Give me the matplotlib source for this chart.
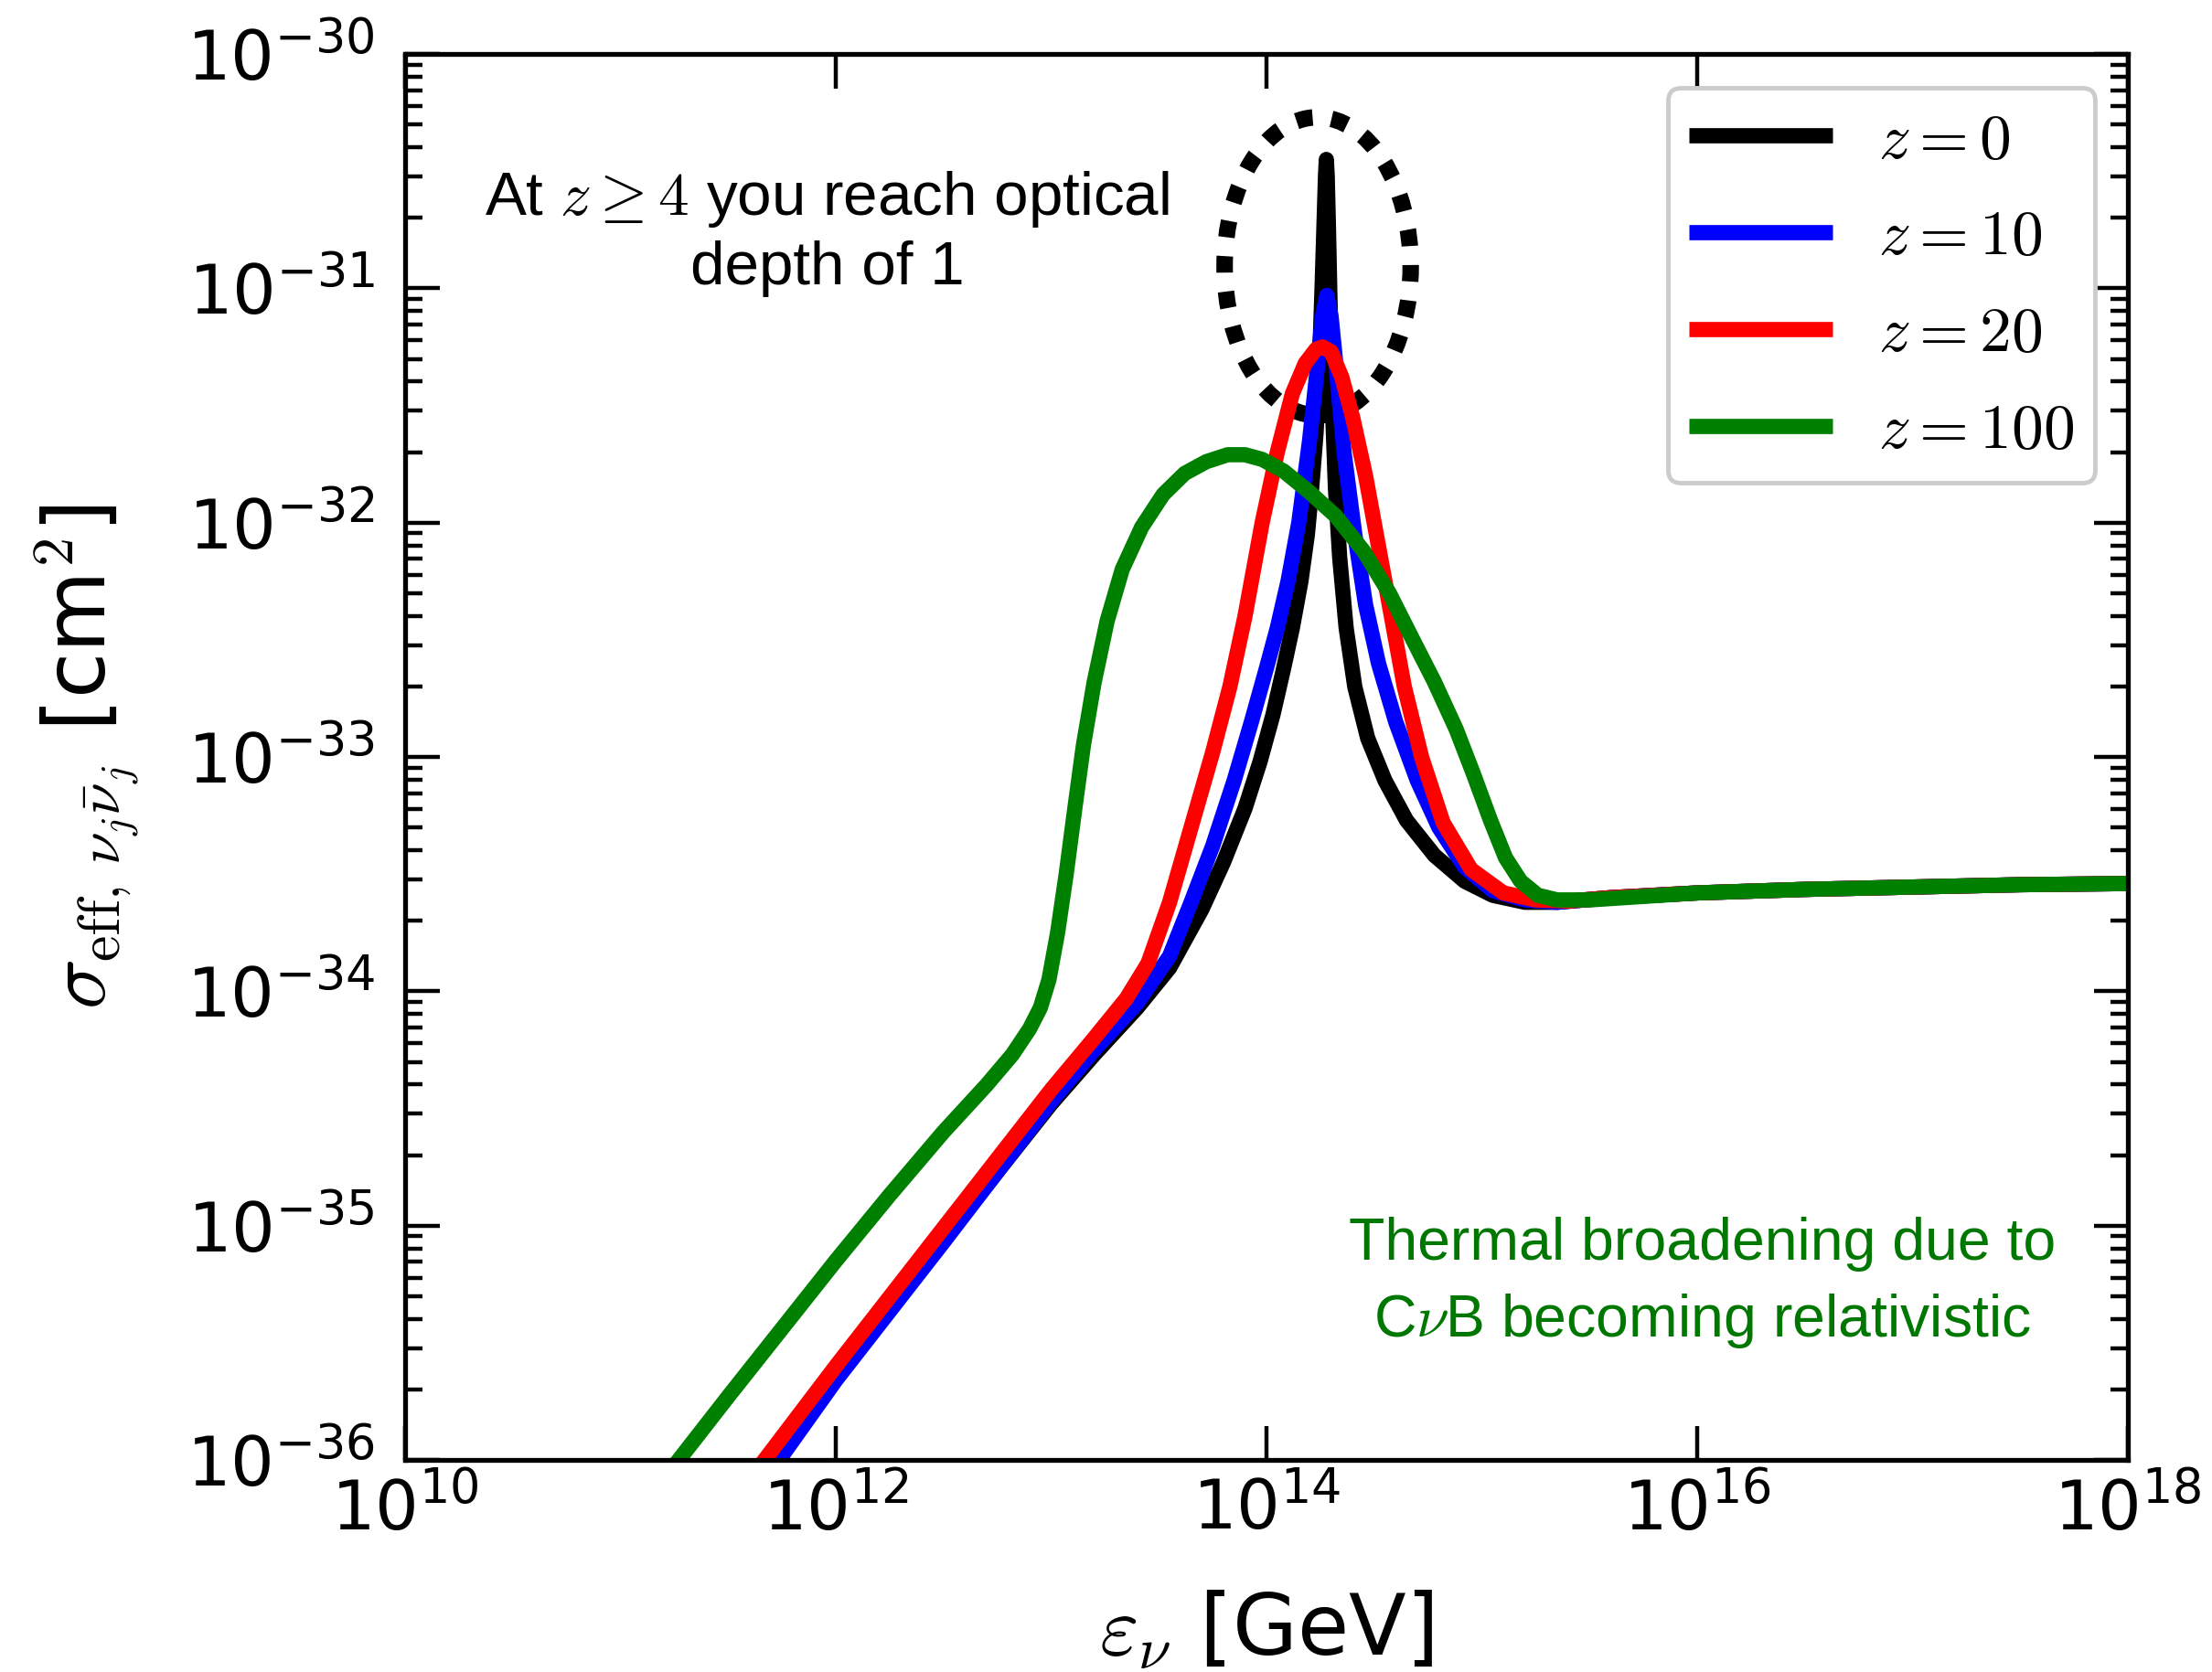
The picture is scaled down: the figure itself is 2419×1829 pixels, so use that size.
import numpy as np
import matplotlib
matplotlib.use("Agg")
import matplotlib.pyplot as plt
from matplotlib.patches import Ellipse
from matplotlib.ticker import FixedLocator, NullLocator, LogLocator, LogFormatterMathtext

plt.rcParams['mathtext.fontset'] = 'cm'
plt.rcParams['font.family'] = ['DejaVu Sans']

# ---- data: log10(energy / GeV), log10(sigma / cm^2) ----
z0_logx = [11.66, 12.0, 12.5, 13.0, 13.2, 13.4, 13.55, 13.7, 13.8, 13.9, 13.97, 14.03, 14.08,
           14.12, 14.16, 14.19, 14.21, 14.23, 14.245, 14.258, 14.268, 14.274, 14.278, 14.282,
           14.288, 14.296, 14.306, 14.32, 14.34, 14.37, 14.41, 14.47, 14.55, 14.65, 14.78, 14.92,
           15.05, 15.2, 15.35, 15.6, 16.0, 16.5, 17.0, 17.5, 18.0]
z0_logy = [-36.06, -35.64, -35.06, -34.48, -34.27, -34.07, -33.9, -33.65, -33.45, -33.22, -33.02,
           -32.82, -32.62, -32.45, -32.25, -32.05, -31.85, -31.62, -31.35, -31.0, -30.7, -30.52,
           -30.45, -30.52, -30.75, -31.1, -31.5, -31.85, -32.15, -32.45, -32.7, -32.92, -33.1,
           -33.27, -33.42, -33.53, -33.59, -33.62, -33.62, -33.6, -33.58, -33.565, -33.555, -33.545,
           -33.54]

z10_logx = [11.69, 12.0, 12.5, 13.0, 13.2, 13.4, 13.55, 13.65, 13.75, 13.85, 13.93, 14.0, 14.05,
            14.1, 14.15, 14.2, 14.235, 14.26, 14.28, 14.30, 14.325, 14.36, 14.41, 14.46, 14.52,
            14.6, 14.7, 14.8, 14.92, 15.05, 15.2, 15.35, 15.6, 16.0, 16.5, 17.0, 17.5, 18.0]
z10_logy = [-36.06, -35.66, -35.07, -34.47, -34.25, -34.05, -33.85, -33.62, -33.38, -33.1, -32.85,
            -32.62, -32.45, -32.25, -32.0, -31.65, -31.35, -31.12, -31.03, -31.12, -31.35, -31.7,
            -32.05, -32.35, -32.6, -32.85, -33.1, -33.3, -33.47, -33.57, -33.61, -33.62, -33.6,
            -33.58, -33.565, -33.555, -33.545, -33.54]

z20_logx = [11.62, 12.0, 12.5, 13.0, 13.2, 13.35, 13.45, 13.55, 13.65, 13.75, 13.83, 13.9, 13.98,
            14.05, 14.12, 14.18, 14.23, 14.26, 14.3, 14.35, 14.4, 14.46, 14.51, 14.57, 14.64,
            14.72, 14.82, 14.95, 15.1, 15.25, 15.4, 15.6, 16.0, 16.5, 17.0, 17.5, 18.0]
z20_logy = [-36.06, -35.6, -35.01, -34.42, -34.2, -34.03, -33.88, -33.62, -33.3, -32.98, -32.7,
            -32.4, -32.0, -31.7, -31.45, -31.32, -31.26, -31.25, -31.27, -31.38, -31.55, -31.8,
            -32.05, -32.35, -32.7, -33.0, -33.28, -33.48, -33.58, -33.61, -33.615, -33.6, -33.58,
            -33.565, -33.555, -33.545, -33.54]

z100_logx = [11.22, 11.5, 11.75, 12.0, 12.25, 12.5, 12.7, 12.82, 12.9, 12.95, 12.99, 13.03,
             13.07, 13.11, 13.15, 13.2, 13.26, 13.33, 13.42, 13.52, 13.62, 13.72, 13.82, 13.9,
             13.98, 14.08, 14.2, 14.32, 14.45, 14.57, 14.68, 14.78, 14.88, 14.96, 15.04, 15.11,
             15.18, 15.26, 15.35, 15.5, 16.0, 16.5, 17.0, 17.5, 18.0]
z100_logy = [-36.06, -35.73, -35.44, -35.15, -34.87, -34.6, -34.4, -34.27, -34.16, -34.07, -33.95,
             -33.75, -33.5, -33.22, -32.95, -32.68, -32.42, -32.2, -32.02, -31.88, -31.79, -31.74,
             -31.71, -31.71, -31.73, -31.78, -31.87, -31.97, -32.12, -32.3, -32.5, -32.68, -32.88,
             -33.07, -33.27, -33.43, -33.53, -33.59, -33.61, -33.61, -33.58, -33.565, -33.555,
             -33.545, -33.54]

series_labels = [r'$z=0$', r'$z=10$', r'$z=20$', r'$z=100$']
series_colors = ['black', 'blue', 'red', 'green']

fig = plt.figure(figsize=(24.19, 18.29), dpi=100)
ax = fig.add_axes([0.1831, 0.1268, 0.962 - 0.1831, 0.9677 - 0.1268])

for lx, ly, lab, col in zip([z0_logx, z10_logx, z20_logx, z100_logx],
                            [z0_logy, z10_logy, z20_logy, z100_logy],
                            series_labels, series_colors):
    ax.plot(10.0 ** np.array(lx), 10.0 ** np.array(ly), color=col, lw=12, label=lab,
            solid_capstyle='butt', solid_joinstyle='round')

ax.set_xscale('log')
ax.set_yscale('log')
ax.set_xlim(1e10, 1e18)
ax.set_ylim(1e-36, 1e-30)

ax.xaxis.set_major_locator(FixedLocator([1e10, 1e12, 1e14, 1e16, 1e18]))
ax.xaxis.set_minor_locator(NullLocator())
ax.xaxis.set_major_formatter(LogFormatterMathtext())
ax.yaxis.set_major_locator(LogLocator(base=10, numticks=20))
ax.yaxis.set_minor_locator(LogLocator(base=10, subs=np.arange(2, 10), numticks=20))

ax.tick_params(which='both', direction='in', top=True, right=True, width=3.2)
ax.tick_params(which='major', length=27, labelsize=54)
ax.tick_params(which='minor', length=14)
ax.tick_params(axis='x', which='major', pad=14)
ax.tick_params(axis='y', which='major', pad=24)
for s in ax.spines.values():
    s.set_linewidth(3.8)

ax.set_xlabel(r'$\varepsilon_\nu$ [GeV]', fontsize=66)
ax.set_ylabel(r'$\sigma_{\mathrm{eff},\,\nu_j\bar{\nu}_j}$ [cm$^2$]', fontsize=66)
ax.xaxis.set_label_coords(0.5, -0.092)
ax.yaxis.set_label_coords(-0.153, 0.5)

leg = ax.legend(loc='upper right', bbox_to_anchor=(0.981, 0.976), borderaxespad=0,
                fontsize=50, handlelength=2.25, handletextpad=0.72, labelspacing=0.56,
                borderpad=0.34, fancybox=True, framealpha=1)
leg.get_frame().set_edgecolor('#cccccc')
leg.get_frame().set_linewidth(3.5)

ell = Ellipse((0.5297, 0.849), 0.108, 0.212, transform=ax.transAxes, fill=False,
              edgecolor='black', lw=13, linestyle=(0, (1, 1.15)))
ax.add_patch(ell)

ax.text(0.245, 0.8726, r'At $z \geq 4$ you reach optical' + '\n' + 'depth of 1',
        transform=ax.transAxes, ha='center', va='center', fontsize=48.5,
        family=['Liberation Sans', 'DejaVu Sans'], linespacing=1.26)
ax.text(0.753, 0.1255, 'Thermal broadening due to\nC$\\nu$B becoming relativistic',
        transform=ax.transAxes, ha='center', va='center', fontsize=46.4, color='#007700',
        family=['Liberation Sans', 'DejaVu Sans'], linespacing=1.46)

fig.savefig('out.png', dpi=100)
